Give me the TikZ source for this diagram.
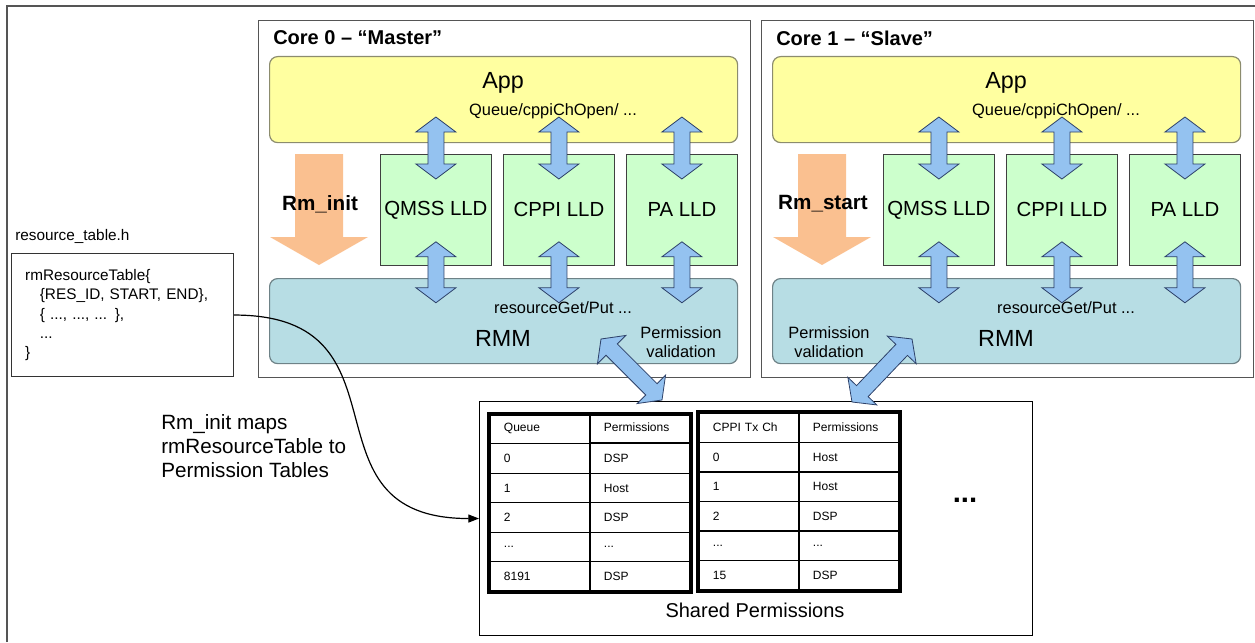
\documentclass[tikz,border=0pt]{standalone}
\usepackage{fontspec}
\setmainfont{Liberation Sans}
\usetikzlibrary{calc,matrix,arrows.meta}

\definecolor{appfill}{RGB}{255,255,160}
\definecolor{appline}{RGB}{140,140,110}
\definecolor{lldfill}{RGB}{204,255,204}
\definecolor{rmmfill}{RGB}{183,221,228}
\definecolor{rmmline}{RGB}{110,130,135}
\definecolor{initfill}{RGB}{250,192,144}
\definecolor{fatfill}{RGB}{148,194,240}
\definecolor{fatline}{RGB}{45,65,105}
\definecolor{frameline}{RGB}{85,85,85}

% wide double-headed arrow between two named points
\newcommand{\fatarrow}[2]{%
  \draw[fatarr] (#1)
    -- ($(#1)!11.25pt!(#2)!15pt!90:(#2)$) -- ($(#1)!11.25pt!(#2)!6pt!90:(#2)$)
    -- ($(#2)!11.25pt!(#1)!6pt!-90:(#1)$) -- ($(#2)!11.25pt!(#1)!15pt!-90:(#1)$)
    -- (#2)
    -- ($(#2)!11.25pt!(#1)!15pt!90:(#1)$) -- ($(#2)!11.25pt!(#1)!6pt!90:(#1)$)
    -- ($(#1)!11.25pt!(#2)!6pt!-90:(#2)$) -- ($(#1)!11.25pt!(#2)!15pt!-90:(#2)$)
    -- cycle;}

\begin{document}
\begin{tikzpicture}[x=0.75pt,y=0.75pt,yscale=-1,
  sz/.style 2 args={minimum width=#1*0.75pt,minimum height=#2*0.75pt},
  corebox/.style={draw=frameline,line width=1.1pt,anchor=north west,inner sep=0pt},
  appbox/.style={draw=appline,fill=appfill,line width=0.9pt,rounded corners=6pt,anchor=north west,inner sep=0pt},
  rmmbox/.style={appbox,draw=rmmline,fill=rmmfill},
  lldbox/.style={draw=black!75,fill=lldfill,line width=0.6pt,anchor=north west,inner sep=0pt,font=\fontsize{15.3}{18}\selectfont},
  bigtext/.style={font=\fontsize{17.5}{21}\selectfont},
  smalltext/.style={font=\fontsize{12.3}{14.3}\selectfont,align=center},
  coretitle/.style={font=\bfseries\fontsize{15}{18}\selectfont,anchor=west,inner sep=0pt},
  calltext/.style={font=\bfseries\fontsize{15.5}{18}\selectfont},
  fatarr/.style={draw=fatline,fill=fatfill,line width=0.6pt},
  permtab/.style={matrix of nodes,anchor=north west,inner sep=0pt,column sep=-1pt,row sep=-1pt,
    nodes={draw,line width=1pt,sz={100}{29.5},text width=54pt,inner xsep=10.5pt,inner ysep=0pt,
      align=left,font=\fontsize{9}{11}\selectfont}},
  tabframe/.style={line width=3pt},
  maparrow/.style={-{Triangle[length=8pt,width=6pt]},line width=0.9pt}]
\useasboundingbox (0,0) rectangle (1255,642);

% page frame
\draw[frameline,line width=1.4pt] (7,642) -- (7,6) -- (1255,6);

% the two cores
\foreach \cid/\dx/\who/\call/\pvx in {0/0/Master/Rm\_init/681,1/503/Slave/Rm\_start/829}{
  \node[corebox,sz={492}{357}] (core\cid) at (258+\dx,20) {};
  \node[coretitle] (title\cid) at (273+\dx,38) {Core \cid{} – “\who”};
  \node[appbox,sz={468}{86}] (app\cid) at (269+\dx,56) {};
  \node[lldbox,sz={111}{111}] (qmss\cid) at (380+\dx,154) {QMSS LLD};
  \node[lldbox,sz={111}{111}] (cppi\cid) at (503+\dx,154) {CPPI LLD};
  \node[lldbox,sz={111}{111}] (pa\cid) at (626+\dx,154) {PA LLD};
  \node[rmmbox,sz={468}{85}] (rmm\cid) at (269+\dx,278) {};
  % Rm_init / Rm_start
  \fill[initfill] (295+\dx,154) -- (343+\dx,154) -- (343+\dx,237) -- (368+\dx,237)
    -- (319+\dx,265) -- (270+\dx,237) -- (295+\dx,237) -- cycle;
  \node[calltext] (call\cid) at (320+\dx,204) {\call};
  \node[bigtext] (applbl\cid) at (503+\dx,83) {App};
  \node[smalltext] (open\cid) at (553+\dx,111) {Queue/cppiChOpen/ ...};
  \node[bigtext] (rmmlbl\cid) at (503+\dx,338) {RMM};
  \node[smalltext] (get\cid) at (563+\dx,308) {resourceGet/Put ...};
  \node[smalltext] (perm\cid) at (\pvx,342) {Permission\\validation};
  \foreach \m in {qmss,cppi,pa}{
    \coordinate (top) at ($(\m\cid.north)+(0,-37)$);
    \coordinate (mid) at ($(\m\cid.north)+(0,25)$);
    \fatarrow{top}{mid}
    \coordinate (top) at ($(\m\cid.south)+(0,-24)$);
    \coordinate (mid) at ($(\m\cid.south)+(0,37)$);
    \fatarrow{top}{mid}
  }
}

% shared permissions
\node[draw,line width=0.8pt,sz={553}{234},anchor=north west,inner sep=0pt] (shared) at (479,401) {};
\matrix (qtab) [permtab] at (489,412) {
  Queue & Permissions \\
  0 & DSP \\
  1 & Host \\
  2 & DSP \\
  ... & ... \\
  8191 & DSP \\
};
\matrix (ctab) [permtab] at (698,412) {
  CPPI Tx Ch & Permissions \\
  0 & Host \\
  1 & Host \\
  2 & DSP \\
  ... & ... \\
  15 & DSP \\
};
\draw[tabframe] (qtab-1-1.north west) rectangle (qtab-6-2.south east);
\draw[tabframe] (ctab-1-1.north west) rectangle (ctab-6-2.south east);
\node[font=\bfseries\fontsize{22}{24}\selectfont] (more) at (965,500) {...};
\node[font=\fontsize{15}{18}\selectfont] (sharedlbl) at (755,610) {Shared Permissions};

% resource table file
\node[anchor=west,font=\fontsize{11.5}{14}\selectfont,inner sep=0pt] (hfile) at (15,236) {resource\_table.h};
\node[draw=black!80,line width=0.8pt,anchor=north west,sz={222}{123},text width=146pt,inner xsep=10.25pt,
  align=left,font=\fontsize{11.5}{14.6}\selectfont] (rtab) at (11,253)
  {rmResourceTable\{\\\hspace*{11pt}\{RES\_ID, START, END\},\\\hspace*{11pt}\{ ..., ..., ... \},\\\hspace*{11pt}...\\\}};
\node[anchor=west,align=left,font=\fontsize{15.5}{18}\selectfont,inner sep=0pt] (maps) at (161,446)
  {Rm\_init maps\\rmResourceTable to\\Permission Tables};
\draw[maparrow] (rtab.east) .. controls +(185,0) and +(-185,0) .. (shared.west);

% permission validation links
\coordinate (pv0) at (601,339);
\coordinate (sp0) at (662,400);
\coordinate (pv1) at (912,339);
\coordinate (sp1) at (852,402);
\fatarrow{pv0}{sp0}
\fatarrow{pv1}{sp1}
\end{tikzpicture}
\end{document}
